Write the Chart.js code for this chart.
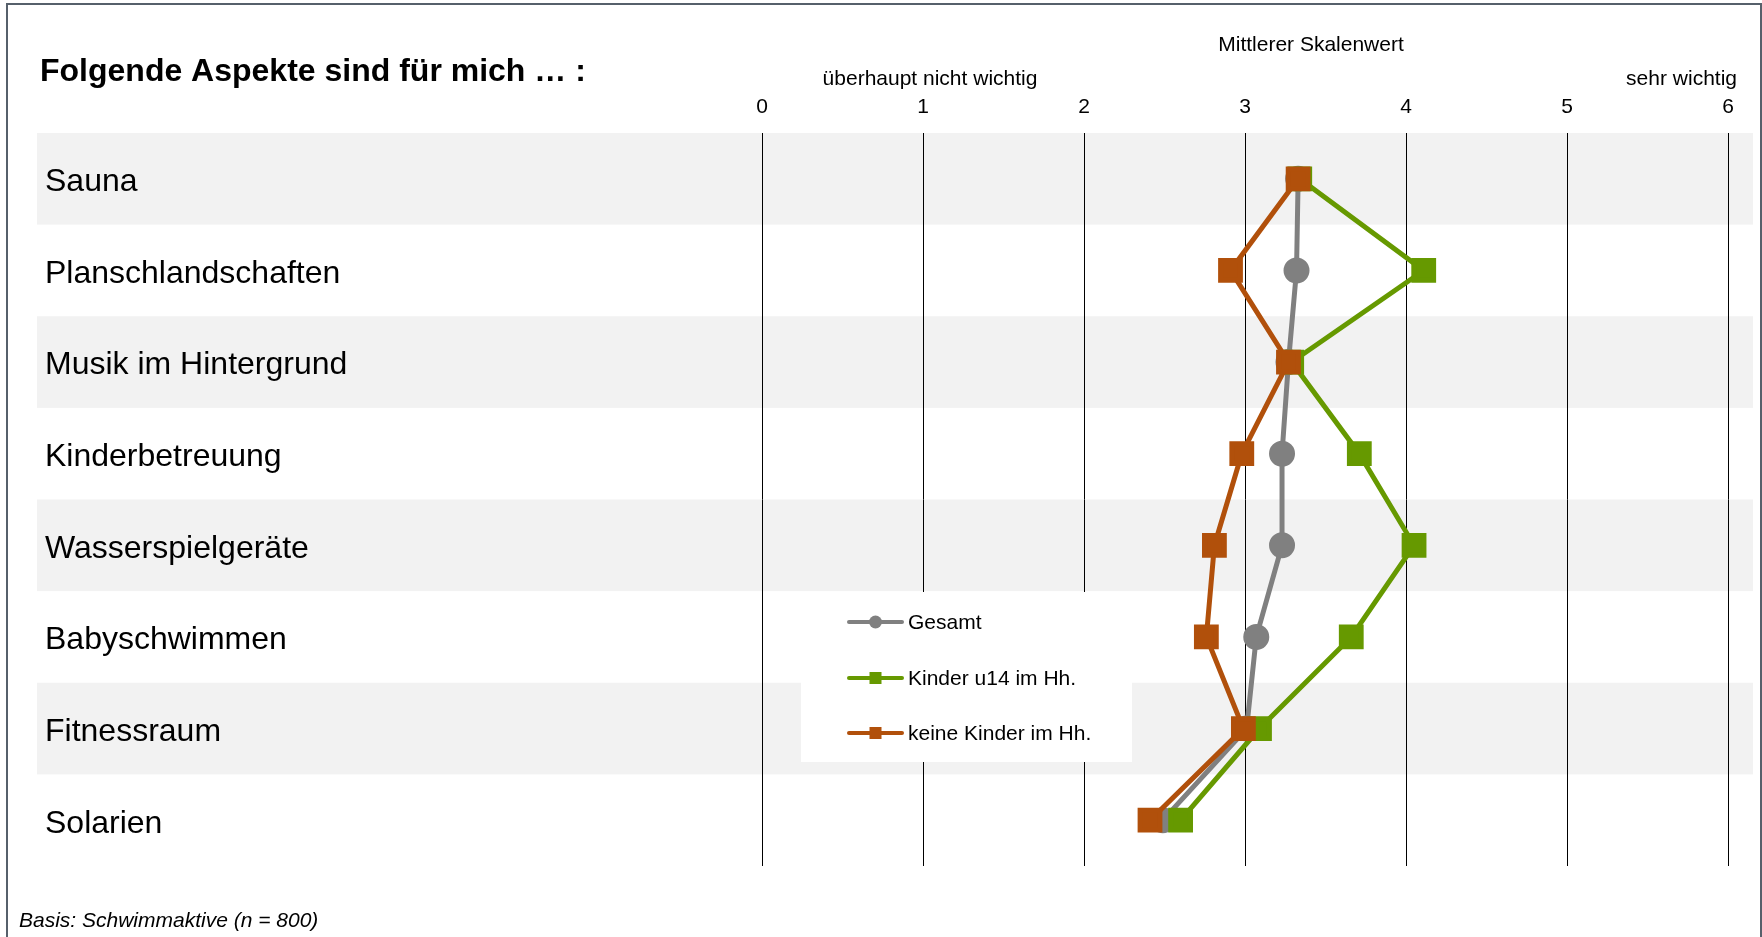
<!DOCTYPE html>
<html>
<head>
<meta charset="utf-8">
<script src="https://cdn.jsdelivr.net/npm/chart.js@4.4.1/dist/chart.umd.min.js"></script>
<style>
  html, body { margin: 0; padding: 0; background: #fff; }
  canvas { display: block; }
</style>
</head>
<body>
<canvas id="chart" width="1762" height="937"></canvas>
<script>
// Werte
var categories = ['Sauna', 'Planschlandschaften', 'Musik im Hintergrund', 'Kinderbetreuung',
   'Wasserspielgeräte', 'Babyschwimmen', 'Fitnessraum', 'Solarien'];
var gesamt = [3.33, 3.32, 3.27, 3.23, 3.23, 3.07, 3.01, 2.49];
var kinderU14 = [3.34, 4.11, 3.29, 3.71, 4.05, 3.66, 3.09, 2.60];
var keineKinder = [3.33, 2.91, 3.27, 2.98, 2.81, 2.76, 2.99, 2.41];
var seriesNames = ['Gesamt', 'Kinder u14 im Hh.', 'keine Kinder im Hh.'];
var tickMin = 0, tickMax = 6;

var font = '"Liberation Sans", Arial, sans-serif';

// graue Zeilenstreifen hinter dem Gitter
var bands = {
   id: 'bands',
   beforeDraw: function(chart) {
      var ctx = chart.ctx;
      var y = chart.scales.y;
      var h = (chart.chartArea.bottom - chart.chartArea.top) / categories.length;
      ctx.save();
      ctx.fillStyle = '#fff';
      ctx.fillRect(0, 0, chart.width, chart.height);
      ctx.fillStyle = '#f2f2f2';
      for (var i = 0; i < categories.length; i += 2) {
         var c = y.getPixelForValue(i);
         ctx.fillRect(37, c - h / 2, 1753 - 37, h);
      }
      ctx.restore();
   }
};

// Titel, Achsenbeschriftung, Legende, Fußnote, Rahmen
var decor = {
   id: 'decor',
   afterDatasetsDraw: function(chart) {
      var ctx = chart.ctx;
      ctx.save();

      // Legende
      ctx.fillStyle = '#fff';
      ctx.fillRect(801, 592, 1132 - 801, 762 - 592);
      var ys = [622, 678, 733];
      chart.data.datasets.forEach(function(ds, i) {
         var yy = ys[i];
         ctx.strokeStyle = ds.borderColor;
         ctx.lineWidth = 4;
         ctx.lineCap = 'round';
         ctx.beginPath();
         ctx.moveTo(849, yy);
         ctx.lineTo(902, yy);
         ctx.stroke();
         ctx.fillStyle = ds.borderColor;
         if (ds.pointStyle === 'circle') {
            ctx.beginPath();
            ctx.arc(875.5, yy, 6.5, 0, Math.PI * 2);
            ctx.fill();
         } else {
            ctx.fillRect(875.5 - 6, yy - 6, 12, 12);
         }
         ctx.fillStyle = '#000';
         ctx.font = '21px ' + font;
         ctx.textAlign = 'left';
         ctx.textBaseline = 'middle';
         ctx.fillText(ds.label, 908, yy + 1);
      });

      ctx.fillStyle = '#000';
      ctx.font = 'bold 32px ' + font;
      ctx.textAlign = 'left';
      ctx.textBaseline = 'alphabetic';
      ctx.fillText('Folgende Aspekte sind für mich … :', 40, 81);

      ctx.font = '21px ' + font;
      ctx.textBaseline = 'middle';
      ctx.textAlign = 'center';
      ctx.fillText('Mittlerer Skalenwert', 1311, 45);
      ctx.fillText('überhaupt nicht wichtig', 930, 79);
      ctx.textAlign = 'right';
      ctx.fillText('sehr wichtig', 1737, 79);

      ctx.font = 'italic 21px ' + font;
      ctx.textAlign = 'left';
      ctx.fillText('Basis: Schwimmaktive (n = 800)', 19, 921);

      ctx.fillStyle = '#56606b';
      ctx.fillRect(6, 3, 2, 937);
      ctx.fillRect(6, 3, 1756, 2);
      ctx.fillRect(1760, 3, 2, 937);
      ctx.restore();
   }
};

var ctx = document.getElementById('chart').getContext('2d');
var myChart = new Chart(ctx, {
   type: 'line',
   data: {
      labels: categories,
      datasets: [{
         label: seriesNames[0],
         data: gesamt,
         borderColor: '#808080',
         backgroundColor: '#808080',
         pointStyle: 'circle',
         pointRadius: 10.5,
         borderWidth: 5,
         order: 3
      }, {
         label: seriesNames[1],
         data: kinderU14,
         borderColor: '#669900',
         backgroundColor: '#669900',
         pointStyle: 'rect',
         pointRadius: 14,
         borderWidth: 5,
         order: 2
      }, {
         label: seriesNames[2],
         data: keineKinder,
         borderColor: '#b1500b',
         backgroundColor: '#b1500b',
         pointStyle: 'rect',
         pointRadius: 14,
         borderWidth: 5,
         order: 1
      }]
   },
   options: {
      indexAxis: 'y',
      responsive: false,
      animation: false,
      layout: {
         padding: { left: 45, right: 34, top: 0, bottom: 71 }
      },
      elements: {
         line: { tension: 0 },
         point: { borderWidth: 0, hoverRadius: 14 }
      },
      plugins: {
         legend: { display: false },
         tooltip: { enabled: false },
         title: { display: false }
      },
      scales: {
         x: {
            type: 'linear',
            position: 'top',
            min: tickMin,
            max: tickMax,
            ticks: {
               stepSize: 1,
               color: '#000',
               padding: 13,
               font: { family: font, size: 21 }
            },
            grid: { color: '#000', lineWidth: 1, drawTicks: false },
            border: { display: false },
            afterFit: function(scale) { scale.height = 133; }
         },
         y: {
            type: 'category',
            offset: true,
            ticks: {
               crossAlign: 'far',
               labelOffset: 3.5,
               color: '#000',
               font: { family: font, size: 32 }
            },
            grid: { display: false },
            border: { display: false },
            afterFit: function(scale) { scale.width = 762 - 45; }
         }
      }
   },
   plugins: [bands, decor]
});
</script>
</body>
</html>
